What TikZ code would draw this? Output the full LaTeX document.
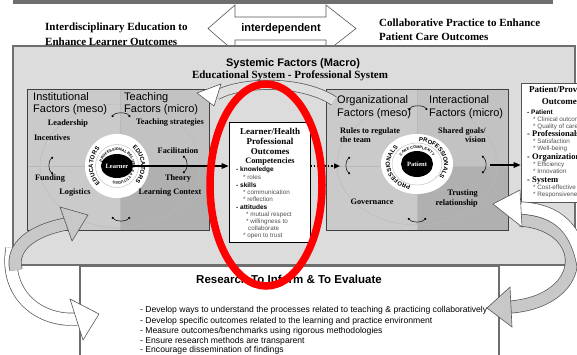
\documentclass[tikz,border=0pt]{standalone}
\usepackage{fontspec}
\setmainfont{Liberation Serif}
\setsansfont{Liberation Sans}
\usetikzlibrary{arrows.meta,shapes.geometric,decorations.text}

\definecolor{boxgray}{HTML}{DCDCDC}
\definecolor{rimgray}{HTML}{6E6E6E}
\definecolor{panelA}{HTML}{CACACA}
\definecolor{panelB}{HTML}{C2C2C2}
\definecolor{panelC}{HTML}{B0B0B0}
\definecolor{lineGray}{HTML}{555555}
\definecolor{bandGray}{HTML}{C8C8C8}
\definecolor{subtext}{HTML}{505050}

\newcommand{\ringfont}{\sffamily\bfseries\fontsize{6}{6}\selectfont}
\newcommand{\ringsmall}{\sffamily\bfseries\fontsize{3.8}{4}\selectfont}
\newcommand{\keysans}{\sffamily\bfseries\fontsize{6.5}{7}\selectfont}
\newcommand{\subsans}{\sffamily\fontsize{6.3}{7}\selectfont\color{subtext}}
\newcommand{\keyserif}{\bfseries\fontsize{8.5}{9}\selectfont}

\tikzset{
  title/.style={font=\bfseries\fontsize{11}{14.5}\selectfont, align=left, inner sep=0pt, anchor=west},
  factor/.style={font=\sffamily\fontsize{11}{11.5}\selectfont, align=left, inner sep=0pt, anchor=west},
  lbl/.style={font=\bfseries\fontsize{8.3}{9}\selectfont, inner sep=0pt},
  core/.style={ellipse, fill=black, text=white, inner sep=0pt, font=\bfseries\fontsize{6.5}{7}\selectfont},
  cyc/.style={{Circle[length=2.2pt]}-{Circle[length=2.2pt]}, line width=0.5pt},
  bigarrow/.style={-{Triangle[length=7pt,width=5.5pt]}, line width=1.4pt},
  item/.style={anchor=west, inner sep=0pt, text height=0.7em, text depth=0.2em},
  panel/.style={draw=gray!50!black, line width=0.7pt},
  faint/.style={draw=gray!55, line width=0.4pt},
}

\begin{document}
\begin{tikzpicture}[x=1pt, y=-1pt]
\useasboundingbox (0,0) rectangle (577,354);
\clip (0,0) rectangle (577,354);

\fill[rimgray] (13,0) rectangle (553,4);

% interdependent double arrow
\filldraw[fill=white, draw=lineGray, line width=0.6pt] (208,28.5) -- (235,5) -- (235,17) -- (326,17) -- (326,5) -- (356,28.5) -- (326,52) -- (326,40) -- (235,40) -- (235,52) -- cycle;
\node[font=\sffamily\bfseries\fontsize{11}{12}\selectfont] (idep) at (281,29) {interdependent};
\node[title] (edu) at (45,34) {Interdisciplinary Education to\\Enhance Learner Outcomes};
\node[title] (prac) at (379,29.5) {Collaborative Practice to Enhance\\Patient Care Outcomes};

% systemic box
\filldraw[fill=boxgray, draw=rimgray, line width=2.5pt] (13,46) rectangle (575,265);
\node[font=\sffamily\bfseries\fontsize{11}{12}\selectfont] (sysf) at (293,64) {Systemic Factors (Macro)};
\node[font=\bfseries\fontsize{11}{12}\selectfont] (edsys) at (290,76) {Educational System - Professional System};

% education panel
\fill[panelA] (27,89) rectangle (120,230);
\fill[panelB] (120,89) rectangle (209,230);
\fill[panelC] (120,166) rectangle (209,230);
\draw[faint] (120,166) ellipse [x radius=80pt, y radius=62pt];
\draw[faint] (27,166) -- (209,166);
\draw[faint] (120,89) -- (120,230);
\draw[panel] (27,89) rectangle (209,230);
\draw[cyc] (112,117) .. controls (115,112) and (127,112) .. (130,117);
\draw[cyc] (53,157) .. controls (48,161) and (48,170) .. (53,174);
\draw[cyc] (183,156) .. controls (188,160) and (188,169) .. (183,173);
\draw[cyc] (112,217) .. controls (116,222) and (126,222) .. (130,217);

% practice panel
\fill[panelA] (326,89) rectangle (417,230);
\fill[panelB] (417,89) rectangle (508,230);
\fill[panelC] (417,166) rectangle (508,230);
\draw[faint] (417,165) ellipse [x radius=80pt, y radius=60pt];
\draw[faint] (326,166) -- (508,166);
\draw[faint] (417,89) -- (417,230);
\draw[panel] (326,89) rectangle (508,230);
\draw[cyc] (409,110) .. controls (412,105) and (424,105) .. (427,110);
\draw[cyc] (350,157) .. controls (345,161) and (345,170) .. (350,174);
\draw[cyc] (482,156) .. controls (487,160) and (487,169) .. (482,173);
\draw[cyc] (408,218) .. controls (412,223) and (422,223) .. (426,218);

% learner ring
\begin{scope}[shift={(117,166)}]
  \fill[white] (0,0) circle (32pt);
  \draw[faint] (0,0) circle (21.5pt);
  \path[decorate, decoration={text along path, text align=center, text={|\ringfont|EDUCATORS}}] (250:24pt) arc[start angle=250, end angle=110, radius=24pt];
  \path[decorate, decoration={text along path, text align=center, text={|\ringfont|EDUCATORS}}] (75:24pt) arc[start angle=75, end angle=-65, radius=24pt];
  \path[decorate, decoration={text along path, text align=center, text={|\ringsmall|PROFESSIONAL BELIEFS {\&} ATTITUDES}}] (200:15.5pt) arc[start angle=200, end angle=-140, radius=15.5pt];
\end{scope}
\node[core, minimum width=28pt, minimum height=24pt] (lrn) at (117,166) {Learner};

% patient ring
\begin{scope}[shift={(417,164)}]
  \fill[white] (0,0) ellipse (36pt and 30pt);
  \draw[faint] (0,0) ellipse (25pt and 21pt);
  \path[decorate, decoration={text along path, text align=center, text={|\ringfont|PROFESSIONALS}}] (95:27pt and 22.5pt) arc[start angle=95, end angle=-45, x radius=27pt, y radius=22.5pt];
  \path[decorate, decoration={text along path, text align=center, text={|\ringfont|PROFESSIONALS}}] (265:27pt and 22.5pt) arc[start angle=265, end angle=125, x radius=27pt, y radius=22.5pt];
  \path[decorate, decoration={text along path, text align=center, text={|\ringsmall|CARE COMPLEXITY}}] (175:18.5pt and 15.5pt) arc[start angle=175, end angle=5, x radius=18.5pt, y radius=15.5pt];
\end{scope}
\node[core, minimum width=32pt, minimum height=26pt] (pat) at (417,164) {Patient};

% panel headings and factors
\node[factor] (inst) at (33,103.5) {Institutional\\Factors (meso)};
\node[factor] (teach) at (124,103.5) {Teaching\\Factors (micro)};
\node[factor, font=\sffamily\fontsize{11}{13}\selectfont] (org) at (337,107.5) {Organizational\\Factors (meso)};
\node[factor, font=\sffamily\fontsize{11}{13}\selectfont] (inter) at (429,107.5) {Interactional\\Factors (micro)};

\node[lbl] (lead) at (68,123) {Leadership};
\node[lbl] (incent) at (52,138) {Incentives};
\node[lbl] (tstrat) at (170,123) {Teaching strategies};
\node[lbl] (facil) at (178,151) {Facilitation};
\node[lbl] (fund) at (50,179) {Funding};
\node[lbl] (theory) at (178,179) {Theory};
\node[lbl] (logis) at (75,193) {Logistics};
\node[lbl] (lcont) at (170,193) {Learning Context};
\node[lbl, align=left, anchor=west, font=\bfseries\fontsize{8.3}{8.5}\selectfont] (rules) at (340,135) {Rules to regulate\\the team};
\node[lbl, align=right, anchor=east, font=\bfseries\fontsize{8.3}{8.5}\selectfont] (goals) at (486,135) {Shared goals/\\vision};
\node[lbl] (gov) at (372,202) {Governance};
\node[lbl, align=right, anchor=east, font=\bfseries\fontsize{8.3}{9.5}\selectfont] (trust) at (478,198.5) {Trusting\\relationship};

% linking band over the outcomes
\draw[line width=10pt, lineGray] (217,95) .. controls (240,82) and (300,79) .. (334,101);
\draw[line width=8.6pt, bandGray!60] (217,95) .. controls (240,82) and (300,79) .. (334,101);
\filldraw[fill=white, draw=lineGray, line width=0.6pt] (197,93) -- (221,84) -- (214,106) -- cycle;

% learner outcomes
\node[draw=black, fill=white, line width=0.6pt, minimum width=81pt, minimum height=120pt, inner sep=0pt] (outc) at (269.5,182) {};
\node[font=\bfseries\fontsize{9}{10}\selectfont, align=center, inner sep=0pt] (outt) at (270,141) {Learner/Health\\Professional\\Outcomes};
\node[font=\bfseries\fontsize{8.3}{9}\selectfont, inner sep=0pt] (comp) at (270,161) {Competencies};
\foreach \x/\y/\t in {236/169/{\keysans - knowledge}, 243/177/{\subsans * roles},
    236/185/{\keysans - skills}, 243/192/{\subsans * communication}, 243/199/{\subsans * reflection},
    236/207/{\keysans - attitudes}, 246/214/{\subsans * mutual respect}, 246/221/{\subsans * willingness to},
    248/228/{\subsans collaborate}, 243/235/{\subsans * open to trust}}
  \node[item] at (\x,\y) {\t};

% patient outcomes
\node[draw=lineGray, fill=white, line width=0.6pt, minimum width=90pt, minimum height=119pt, inner sep=0pt] (pout) at (566,142.5) {};
\node[font=\bfseries\fontsize{9}{12}\selectfont, align=center, inner sep=0pt] (poutt) at (561,95) {Patient/Provider\\Outcomes};
\foreach \x/\y/\t in {527/112/{\keysans - Patient}, 533/119/{\subsans * Clinical outcomes}, 533/126/{\subsans * Quality of care},
    527/134/{\keyserif - Professionals}, 533/141/{\subsans * Satisfaction}, 533/148/{\subsans * Well-being},
    527/157/{\keyserif - Organizations}, 533/164/{\subsans * Efficiency}, 533/171/{\subsans * Innovation},
    527/180/{\keyserif - System}, 533/187/{\subsans * Cost-effective}, 533/194/{\subsans * Responsiveness}}
  \node[item] at (\x,\y) {\t};

% connectors
\draw[bigarrow] (lrn.east) -- (lrn.east -| outc.west);
\coordinate (orgin) at (340,166);
\draw[dotted, line width=1.5pt, -{Triangle[length=6pt,width=5pt]}] (outc.east |- orgin) -- (orgin);
\coordinate (patout) at (490,165);
\draw[bigarrow] (patout) -- (patout -| pout.west);

% research box
\node[draw=rimgray, fill=white, line width=1.5pt, minimum width=419pt, minimum height=110pt, inner sep=0pt] (res) at (289.5,321) {};
\node[font=\sffamily\bfseries\fontsize{11.5}{12}\selectfont] (rest) at (289,279) {Research To Inform \& To Evaluate};
\foreach \y/\t in {309.5/{- Develop ways to understand the processes related to teaching \& practicing collaboratively},
    321/{- Develop specific outcomes related to the learning and practice environment},
    331/{- Measure outcomes/benchmarks using rigorous methodologies},
    340.5/{- Ensure research methods are transparent},
    350/{- Encourage dissemination of findings}}
  \node[item, font=\sffamily\fontsize{8.6}{9}\selectfont] at (140,\y) {\t};

% feedback loops
\draw[line width=13pt, lineGray] (12,248) .. controls (4,295) and (40,322) .. (77,319);
\draw[line width=11.6pt, white] (12,248) .. controls (4,295) and (40,322) .. (77,319);
\filldraw[fill=white, draw=lineGray, line width=0.6pt] (99,314) -- (70,299) -- (83,340) -- cycle;
\draw[line width=13pt, lineGray] (16,270) .. controls (10,245) and (35,230) .. (66,224);
\draw[line width=11.6pt, bandGray] (16,270) .. controls (10,245) and (35,230) .. (66,224);
\filldraw[fill=bandGray, draw=lineGray, line width=0.6pt] (88,215) -- (60,207) -- (72,241) -- cycle;

\draw[line width=13pt, lineGray] (520,220) .. controls (590,225) and (590,300) .. (511,307);
\draw[line width=11.6pt, bandGray] (520,220) .. controls (590,225) and (590,300) .. (511,307);
\filldraw[fill=bandGray, draw=lineGray, line width=0.6pt] (487,308) -- (510,287) -- (512,327) -- cycle;
\draw[line width=13pt, lineGray] (585,280) .. controls (580,225) and (555,210) .. (521,208);
\draw[line width=11.6pt, white] (585,280) .. controls (580,225) and (555,210) .. (521,208);
\filldraw[fill=white, draw=lineGray, line width=0.6pt] (493,204) -- (520,190) -- (522,227) -- cycle;

\draw[red, line width=7.5pt] (266,185) ellipse [x radius=56pt, y radius=101pt];
\end{tikzpicture}
\end{document}
